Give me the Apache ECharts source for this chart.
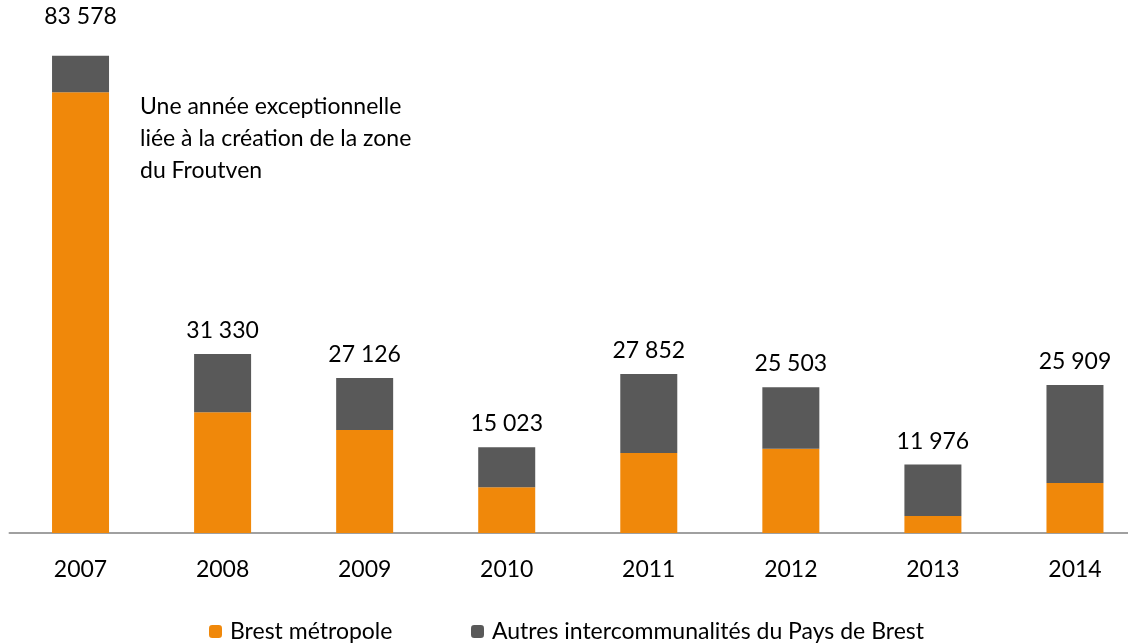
<!DOCTYPE html>
<html><head><meta charset="utf-8">
<script src="https://cdn.jsdelivr.net/npm/echarts@6/dist/echarts.min.js"></script>
<style>html,body{margin:0;padding:0;background:#fff;overflow:hidden}#c{width:1146px;height:643px}</style>
</head><body><div id="c"></div>
<script>
var years = ['2007','2008','2009','2010','2011','2012','2013','2014'];
var brest = [77170, 21135, 18036, 8002, 14008, 14761, 2977, 8755];
var totals = [83578, 31330, 27126, 15023, 27852, 25503, 11976, 25909];
var autres = totals.map(function(t,i){ return t - brest[i]; });
var FONT = 'Lato';
function fmt(v){ return String(v).replace(/\B(?=(\d{3})+(?!\d))/g, ' '); }
var chart = echarts.init(document.getElementById('c'));
chart.setOption({
  animation:false,
  textStyle:{fontFamily:FONT},
  grid:{left:9.5, right:0, top:19, bottom:110},
  xAxis:{type:'category', data:years,
    axisLine:{lineStyle:{color:'#a0a0a0', width:2}},
    axisTick:{show:false},
    axisLabel:{color:'#000', fontSize:23, fontFamily:FONT, margin:25}},
  yAxis:{type:'value', min:0, max:90000, show:false, splitLine:{show:false}},
  legend:[
    {data:['Brest métropole'], left:204, top:615, itemWidth:13, itemHeight:13, itemGap:0,
     textStyle:{fontSize:23, color:'#000', fontFamily:FONT, padding:[0,0,0,3]}},
    {data:['Autres intercommunalités du Pays de Brest'], left:466, top:615, itemWidth:13, itemHeight:13,
     textStyle:{fontSize:23, color:'#000', fontFamily:FONT, padding:[0,0,0,3]}}
  ],
  series:[
    {name:'Brest métropole', type:'bar', stack:'t', barWidth:57, data:brest,
     itemStyle:{color:'#F0880A'}},
    {name:'Autres intercommunalités du Pays de Brest', type:'bar', stack:'t', barWidth:57,
     data:autres.map(function(v,i){
       var item = {value:v};
       if(i===0){ item.label = {distance:28}; }
       return item;
     }),
     itemStyle:{color:'#595959'},
     label:{show:true, position:'top', distance:12, color:'#000', fontSize:23, fontFamily:FONT,
       formatter:function(p){ return fmt(totals[p.dataIndex]); }}}
  ],
  graphic:[{type:'text', left:140, top:91,
    style:{text:'Une année exceptionnelle\nliée à la création de la zone\ndu Froutven',
      font:'23px '+FONT, fill:'#000', lineHeight:32}}]
});
</script></body></html>
